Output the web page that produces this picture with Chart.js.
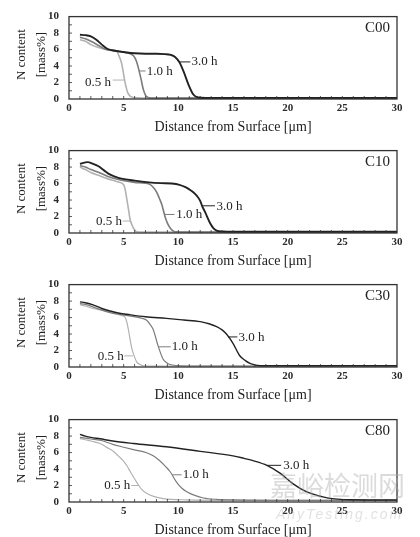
<!DOCTYPE html>
<html>
<head>
<meta charset="utf-8">
<script src="https://cdn.jsdelivr.net/npm/chart.js@4.4.1/dist/chart.umd.min.js"></script>
<style>
  body { margin: 0; background: #fff; }
  #wrap { position: relative; width: 420px; height: 537px; overflow: hidden; }
  .panel { position: absolute; left: 0; width: 420px; height: 134px; }
  .wm { position: absolute; white-space: nowrap; color: rgba(170,170,170,0.42); font-family: 'Noto Sans CJK SC', sans-serif; }
</style>
</head>
<body>
<div id="wrap">
  <div class="panel" style="top:0px"><canvas id="c00" width="420" height="134"></canvas></div>
  <div class="panel" style="top:134px"><canvas id="c10" width="420" height="134"></canvas></div>
  <div class="panel" style="top:268px"><canvas id="c30" width="420" height="134"></canvas></div>
  <div class="panel" style="top:403px"><canvas id="c80" width="420" height="134"></canvas></div>
  <div class="wm" style="left:270px;top:468px;font-size:27px;line-height:34px">嘉峪检测网</div>
  <div class="wm" style="left:276px;top:506px;font-size:14px;font-style:italic;font-family:'Liberation Sans',sans-serif;letter-spacing:2px;color:rgba(180,180,180,0.4)">AnyTesting.com</div>
</div>
<script>
// series: [distance um, N mass%]
const times = ['3.0 h', '1.0 h', '0.5 h'];

const c00_h30 = [[1.0,7.8],[1.5,7.75],[2.0,7.6],[2.5,7.2],[3.0,6.6],[3.5,6.1],[4.2,5.85],[5.0,5.7],[6.0,5.55],[7.0,5.5],[8.0,5.5],[8.8,5.45],[9.3,5.35],[9.7,5.1],[10.1,4.45],[10.46,3.4],[10.9,1.85],[11.37,0.55],[11.83,0.18],[12.5,0.12],[15,0.12],[20,0.12],[25,0.12],[30,0.12]];
const c00_h10 = [[1.0,7.5],[1.5,7.3],[2.0,7.0],[2.7,6.5],[3.3,6.05],[4.2,5.85],[5.1,5.65],[5.6,5.5],[5.9,5.25],[6.15,4.65],[6.35,3.75],[6.6,2.35],[6.8,1.15],[7.1,0.28],[7.55,0.1],[10,0.1],[30,0.1]];
const c00_h05 = [[1.0,7.2],[1.5,7.0],[2.0,6.6],[2.7,6.25],[3.5,6.0],[4.34,5.85],[4.55,5.3],[4.8,4.4],[4.97,3.2],[5.1,2.16],[5.25,1.3],[5.4,0.67],[5.86,0.18],[8,0.1],[30,0.1]];

const c10_h30 = [[1.0,8.4],[1.7,8.6],[2.2,8.4],[2.7,8.1],[3.2,7.6],[3.6,7.2],[4.2,6.85],[4.8,6.6],[6.0,6.35],[7.3,6.15],[8.4,6.05],[9.4,6.0],[10.1,5.85],[10.6,5.6],[11.0,5.3],[11.37,4.95],[11.7,4.5],[12.0,3.9],[12.2,3.2],[12.44,2.56],[12.9,1.22],[13.2,0.6],[13.5,0.3],[14.1,0.18],[15,0.15],[20,0.15],[25,0.15],[30,0.15]];
const c10_h10 = [[1.0,8.2],[1.5,8.0],[2.0,7.7],[2.7,7.37],[3.5,6.9],[4.8,6.4],[6.0,6.15],[6.95,6.05],[7.4,5.9],[7.7,5.55],[8.0,5.0],[8.25,4.25],[8.48,3.5],[8.78,2.0],[9.0,1.2],[9.24,0.65],[9.7,0.15],[12,0.1],[30,0.1]];
const c10_h05 = [[1.0,8.0],[1.5,7.7],[2.0,7.35],[2.7,7.0],[3.5,6.6],[4.5,6.2],[5.0,5.85],[5.15,5.2],[5.28,4.16],[5.45,2.8],[5.58,1.7],[5.75,1.0],[5.9,0.58],[6.2,0.15],[8,0.1],[30,0.1]];

const c30_h30 = [[1.0,7.9],[1.5,7.8],[2.2,7.55],[3.0,7.1],[3.75,6.8],[4.5,6.55],[5.28,6.4],[7.0,6.1],[8.9,5.9],[10.5,5.7],[12.0,5.5],[12.8,5.25],[13.5,4.9],[14.0,4.5],[14.4,4.0],[15.0,2.87],[15.6,1.4],[16.1,0.8],[16.6,0.42],[17.5,0.16],[20,0.15],[30,0.15]];
const c30_h10 = [[1.0,7.7],[1.5,7.6],[2.2,7.3],[3.0,6.9],[3.75,6.6],[5.0,6.3],[6.2,6.05],[6.7,5.9],[7.1,5.67],[7.4,5.2],[7.7,4.55],[8.17,2.47],[8.6,0.98],[8.9,0.55],[9.24,0.3],[10.1,0.15],[12,0.12],[30,0.12]];
const c30_h05 = [[1.0,7.55],[1.5,7.4],[2.2,7.1],[3.0,6.9],[3.75,6.7],[4.67,6.3],[5.12,6.05],[5.3,5.4],[5.43,4.55],[5.74,2.29],[6.0,1.2],[6.2,0.6],[6.5,0.3],[6.8,0.15],[9,0.1],[30,0.1]];

const c80_h30 = [[1.0,8.2],[1.5,8.0],[2.0,7.85],[2.84,7.67],[4.0,7.4],[5.9,7.1],[8.9,6.7],[12.0,6.15],[15.0,5.6],[16.0,5.3],[16.9,5.0],[18.1,4.45],[19.3,3.5],[20.5,2.2],[21.7,1.25],[22.7,0.8],[23.6,0.5],[25.7,0.27],[28,0.25],[30,0.25]];
const c80_h10 = [[1.0,7.85],[1.5,7.75],[2.0,7.65],[2.84,7.5],[4.0,7.0],[5.0,6.65],[5.9,6.35],[7.1,5.97],[7.7,5.6],[8.3,5.0],[8.8,4.35],[9.24,3.7],[9.85,2.38],[10.3,1.7],[10.77,1.25],[11.5,0.8],[12.3,0.49],[13.5,0.32],[15.0,0.26],[20,0.2],[30,0.2]];
const c80_h05 = [[1.0,7.7],[1.5,7.55],[2.0,7.4],[2.84,7.1],[3.5,6.6],[4.05,6.15],[4.5,5.6],[4.97,5.0],[5.3,4.4],[5.6,3.7],[6.2,2.38],[6.6,1.6],[7.1,1.05],[7.8,0.65],[8.6,0.42],[10.8,0.26],[15,0.2],[30,0.2]];

const xTicks = [0, 5, 10, 15, 20, 25, 30];
const yTicks = [0, 2, 4, 6, 8, 10];

const serif = "'Liberation Serif', 'Times New Roman', serif";
const colors = ['#222222', '#7c7c7c', '#b2b2b2'];

// frame, inside ticks, panel name, y title and the "x.x h" call-outs
const decor = {
  id: 'decor',
  afterDraw(chart) {
    const o = chart.options.plugins.decor;
    const { ctx, chartArea: a, scales: { x, y } } = chart;
    ctx.save();
    ctx.strokeStyle = '#333';
    ctx.lineWidth = 1.3;
    ctx.strokeRect(a.left, a.top, a.right - a.left, a.bottom - a.top);
    ctx.lineWidth = 0.8;
    ctx.beginPath();
    for (let i = 1; i < 30; i++) {
      const px = x.getPixelForValue(i);
      ctx.moveTo(px, a.bottom); ctx.lineTo(px, a.bottom - 3);
    }
    for (let j = 1; j < 10; j++) {
      const py = y.getPixelForValue(j);
      ctx.moveTo(a.left, py); ctx.lineTo(a.left + 3, py);
    }
    ctx.stroke();

    ctx.fillStyle = '#222';
    ctx.font = '15px ' + serif;
    ctx.textAlign = 'right';
    ctx.textBaseline = 'middle';
    ctx.fillText(o.name, a.right - 7, a.top + 11);

    // y title
    ctx.save();
    ctx.translate(22, a.top + 38);
    ctx.rotate(-Math.PI / 2);
    ctx.textAlign = 'center';
    ctx.font = '13px ' + serif;
    ctx.fillText('N content', 0, 0);
    ctx.fillText('[mass%]', 0, 20);
    ctx.restore();

    ctx.font = '13px ' + serif;
    ctx.lineWidth = 1;
    o.notes.forEach((n, i) => {
      ctx.strokeStyle = colors[i];
      ctx.beginPath();
      ctx.moveTo(x.getPixelForValue(n.l[0]), y.getPixelForValue(n.l[1]));
      ctx.lineTo(x.getPixelForValue(n.l[2]), y.getPixelForValue(n.l[3]));
      ctx.stroke();
      ctx.fillStyle = '#222';
      ctx.textAlign = n.align;
      ctx.fillText(times[i], x.getPixelForValue(n.t[0]), y.getPixelForValue(n.t[1]));
    });
    ctx.restore();
  }
};

function makePanel(id, name, series, notes, lw) {
  new Chart(document.getElementById(id), {
    type: 'line',
    data: {
      datasets: series.map((s, i) => ({
        label: times[i],
        data: s.map(p => ({ x: p[0], y: p[1] })),
        borderColor: colors[i],
        borderWidth: i === 0 ? lw : lw * 0.85,
        pointRadius: 0,
        cubicInterpolationMode: 'monotone',
        fill: false
      }))
    },
    options: {
      responsive: false,
      animation: false,
      layout: { padding: { top: 10, right: 23, left: 0, bottom: 0 } },
      plugins: {
        legend: { display: false },
        tooltip: { enabled: false },
        decor: { name: name, notes: notes }
      },
      scales: {
        x: {
          type: 'linear', min: 0, max: 30,
          afterBuildTicks: s => { s.ticks = xTicks.map(v => ({ value: v })); },
          ticks: { color: '#2a2a2a', font: { family: serif, size: 11, weight: 'bold' }, padding: 3, maxRotation: 0 },
          grid: { display: false, drawTicks: false },
          border: { display: false },
          title: {
            display: true, text: 'Distance from Surface [μm]', color: '#222',
            font: { family: serif, size: 14, lineHeight: 1 }, padding: { top: 0, bottom: 0 }
          },
          afterFit: s => { s.height = 35; }
        },
        y: {
          min: 0, max: 10,
          afterBuildTicks: s => { s.ticks = yTicks.map(v => ({ value: v })); },
          ticks: { color: '#2a2a2a', font: { family: serif, size: 11, weight: 'bold' }, padding: 10 },
          grid: { display: false, drawTicks: false },
          border: { display: false },
          afterFit: s => { s.width = 69; }
        }
      }
    },
    plugins: [decor]
  });
}

makePanel('c00', 'C00', [c00_h30, c00_h10, c00_h05], [
  { l: [10.1, 4.5, 11.1, 4.5], t: [11.2, 4.5], align: 'left' },
  { l: [6.4, 3.4, 7.0, 3.4], t: [7.1, 3.35], align: 'left' },
  { l: [4.0, 2.3, 5.05, 2.3], t: [3.85, 2.05], align: 'right' }
], 1.9);
makePanel('c10', 'C10', [c10_h30, c10_h10, c10_h05], [
  { l: [12.15, 3.3, 13.35, 3.3], t: [13.5, 3.25], align: 'left' },
  { l: [8.7, 2.25, 9.65, 2.25], t: [9.8, 2.2], align: 'left' },
  { l: [4.9, 1.45, 5.62, 1.45], t: [4.85, 1.35], align: 'right' }
], 1.9);
makePanel('c30', 'C30', [c30_h30, c30_h10, c30_h05], [
  { l: [14.55, 3.65, 15.4, 3.65], t: [15.5, 3.6], align: 'left' },
  { l: [8.2, 2.45, 9.3, 2.45], t: [9.4, 2.45], align: 'left' },
  { l: [5.05, 1.35, 5.85, 1.35], t: [5.0, 1.28], align: 'right' }
], 1.4);
makePanel('c80', 'C80', [c80_h30, c80_h10, c80_h05], [
  { l: [18.1, 4.45, 19.4, 4.45], t: [19.6, 4.45], align: 'left' },
  { l: [9.45, 3.3, 10.3, 3.3], t: [10.4, 3.3], align: 'left' },
  { l: [5.7, 2.0, 6.4, 2.0], t: [5.6, 2.0], align: 'right' }
], 1.4);
</script>
</body>
</html>
